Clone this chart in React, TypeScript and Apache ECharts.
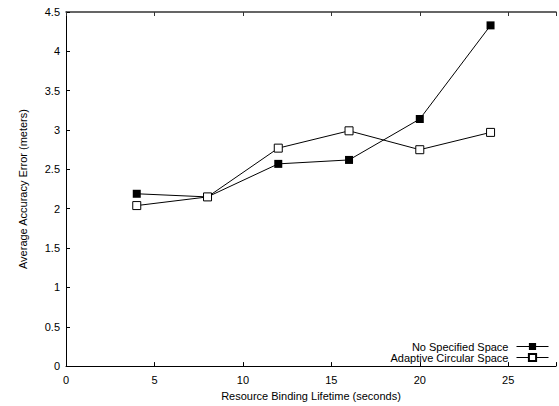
import React, { useEffect, useRef } from "react";
import * as echarts from "echarts";

const xValues = [4, 8, 12, 16, 20, 24];
const noSpecified = [2.19, 2.15, 2.57, 2.62, 3.14, 4.33];
const adaptiveCircular = [2.04, 2.15, 2.77, 2.99, 2.75, 2.97];
const seriesNames = ["No Specified Space", "Adaptive Circular Space"];

const FONT = "'Liberation Sans', Arial, Helvetica, sans-serif";

export default function App() {
  const ref = useRef<HTMLDivElement>(null);
  useEffect(() => {
    if (!ref.current) return;
    const chart = echarts.init(ref.current, undefined, { renderer: "svg" });
    const pairs = (ys: number[]) => xValues.map((x, i) => [x, ys[i]]);
    chart.setOption({
      animation: false,
      backgroundColor: "#fff",
      textStyle: { fontFamily: FONT },
      grid: { left: 66, top: 12, right: 0, bottom: 39 },
      legend: {
        orient: "vertical",
        align: "right",
        right: 5,
        top: 336,
        itemGap: 0,
        itemWidth: 32,
        itemHeight: 9,
        lineStyle: { width: 1 },
        textStyle: { fontFamily: FONT, fontSize: 11, color: "#000", padding: [0, 3, 0, 0] },
        data: seriesNames,
      },
      xAxis: [
        {
          type: "value",
          min: 0,
          max: 27.7,
          interval: 5,
          name: "Resource Binding Lifetime (seconds)",
          nameLocation: "middle",
          nameGap: 21,
          nameTextStyle: { fontFamily: FONT, fontSize: 11, color: "#000" },
          axisLine: { show: true, onZero: false, lineStyle: { color: "#000", width: 1 } },
          axisTick: { show: true, inside: true, length: 4, lineStyle: { color: "#000" } },
          axisLabel: {
            fontFamily: FONT,
            fontSize: 11,
            color: "#000",
            margin: 8,
            formatter: (v: number) => (v % 5 === 0 ? String(v) : ""),
          },
          splitLine: { show: false },
        },
        {
          type: "value",
          position: "top",
          min: 0,
          max: 27.7,
          interval: 5,
          axisLine: { show: true, onZero: false, lineStyle: { color: "#333", width: 1.5 } },
          axisTick: { show: true, inside: true, length: 4, lineStyle: { color: "#333" } },
          axisLabel: { show: false },
          splitLine: { show: false },
        },
      ],
      yAxis: {
        type: "value",
        min: 0,
        max: 4.5,
        interval: 0.5,
        name: "Average Accuracy Error (meters)",
        nameLocation: "middle",
        nameGap: 38,
        nameTextStyle: { fontFamily: FONT, fontSize: 11, color: "#000" },
        axisLine: { show: true, lineStyle: { color: "#000", width: 1 } },
        axisTick: { show: true, inside: true, length: 4, lineStyle: { color: "#000" } },
        axisLabel: { fontFamily: FONT, fontSize: 11, color: "#000", margin: 6 },
        splitLine: { show: false },
      },
      series: [
        {
          name: seriesNames[0],
          type: "line",
          data: pairs(noSpecified),
          symbol: "rect",
          symbolSize: 8,
          lineStyle: { color: "#000", width: 1 },
          itemStyle: { color: "#000", borderColor: "#000", borderWidth: 0 },
        },
        {
          name: seriesNames[1],
          type: "line",
          data: pairs(adaptiveCircular),
          symbol: "rect",
          symbolSize: 8,
          lineStyle: { color: "#000", width: 1 },
          itemStyle: { color: "#fff", borderColor: "#000", borderWidth: 1 },
        },
      ],
    });
    return () => chart.dispose();
  }, []);
  return <div ref={ref} style={{ width: 559, height: 406, position: "absolute", left: 0, top: 0 }} />;
}
